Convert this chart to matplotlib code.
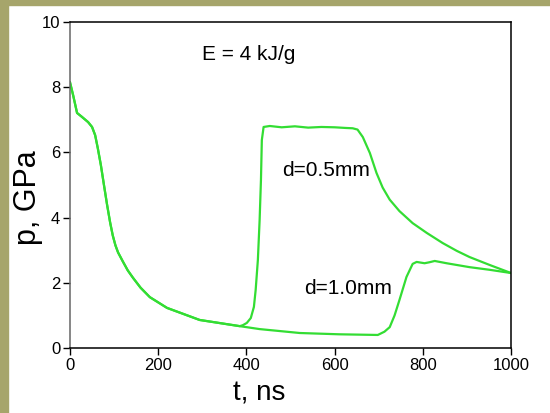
import matplotlib.pyplot as plt
from matplotlib.patches import Rectangle

plt.rcParams.update({
    "font.family": ["Liberation Sans", "DejaVu Sans"],
    "font.size": 12,
})

GREEN = "#33dd33"
OLIVE = "#a6a56b"

# shared early decay of both pressure histories (t in ns, p in GPa)
t_early = [0, 7, 16, 27, 41, 50, 57, 63, 70, 77, 84, 91, 97, 103, 109, 120,
           131, 143, 160, 181, 220, 294, 385]
p_early = [8.15, 7.76, 7.21, 7.09, 6.93, 6.78, 6.53, 6.13, 5.61, 5.0, 4.4,
           3.85, 3.45, 3.15, 2.93, 2.65, 2.38, 2.15, 1.85, 1.56, 1.23, 0.86,
           0.67]

# d = 0.5 mm after the early decay
t_05_late = [392, 401, 410, 417, 421, 426, 430, 433, 435, 439, 453, 480, 510,
             540, 570, 600, 625, 641, 652, 664, 680, 695, 709, 725, 747, 777,
             809, 845, 877, 906, 951, 1000]
p_05_late = [0.7, 0.77, 0.92, 1.26, 1.78, 2.7, 3.93, 5.15, 6.38, 6.78, 6.81,
             6.77, 6.8, 6.76, 6.78, 6.77, 6.75, 6.74, 6.7, 6.47, 5.98, 5.37,
             4.92, 4.55, 4.2, 3.83, 3.53, 3.22, 2.98, 2.79, 2.55, 2.3]

# d = 1.0 mm after the early decay
t_10_late = [430, 521, 611, 698, 713, 725, 736, 747, 763, 777, 786, 804, 815,
             827, 854, 906, 951, 1000]
p_10_late = [0.58, 0.46, 0.42, 0.4, 0.5, 0.64, 1.0, 1.47, 2.18, 2.58, 2.64,
             2.6, 2.63, 2.67, 2.6, 2.48, 2.4, 2.3]

t_05 = t_early + t_05_late
p_05 = p_early + p_05_late
t_10 = t_early + t_10_late
p_10 = p_early + p_10_late

x_ticks = [0, 200, 400, 600, 800, 1000]
y_ticks = [0, 2, 4, 6, 8, 10]

fig = plt.figure(figsize=(5.5, 4.13), dpi=100)
fig.patch.set_facecolor("white")
# olive frame along the top and left edges
fig.patches.append(Rectangle((0, 1 - 5 / 413), 1, 5 / 413, transform=fig.transFigure,
                             color=OLIVE, zorder=0))
fig.patches.append(Rectangle((0, 0), 8 / 550, 1, transform=fig.transFigure,
                             color=OLIVE, zorder=0))

ax = fig.add_axes([70 / 550, 1 - 348 / 413, 441 / 550, 326 / 413])
ax.plot(t_05, p_05, color=GREEN, lw=1.6)
ax.plot(t_10, p_10, color=GREEN, lw=1.6)

ax.set_xlim(0, 1000)
ax.set_ylim(0, 10)
ax.set_xticks(x_ticks)
ax.set_yticks(y_ticks)
ax.tick_params(direction="out", length=5, width=1, labelsize=12, pad=2)
ax.spines["left"].set_color("#666666")
for sp in ax.spines.values():
    sp.set_linewidth(1.1)

ax.set_xlabel("t, ns", fontsize=20)
ax.xaxis.set_label_coords(0.43, -0.10)
ax.set_ylabel("p, GPa", fontsize=22)
ax.yaxis.set_label_coords(-0.062, 0.46)

ax.text(405, 9.0, "E = 4 kJ/g", fontsize=15, ha="center", va="center")
ax.text(482, 5.46, "d=0.5mm", fontsize=15, ha="left", va="center")
ax.text(532, 1.84, "d=1.0mm", fontsize=15, ha="left", va="center")

fig.savefig("out.png", dpi=100)
